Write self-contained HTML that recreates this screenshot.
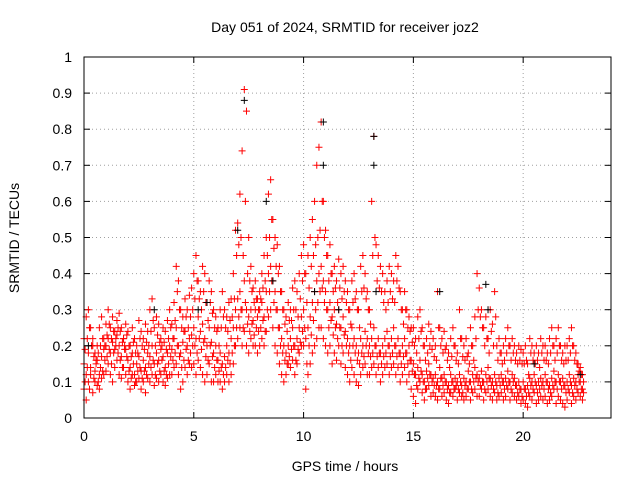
<!DOCTYPE html>
<html><head><meta charset="utf-8"><style>
body{margin:0;background:#fff}
svg{display:block;font-family:"Liberation Sans",sans-serif;font-size:14px}
</style></head><body>
<svg id="chart" width="640" height="480">
<rect x="0" y="0" width="640" height="480" fill="#fff"/>
<g id="grid"></g>
<g id="ticks"></g>
<g id="marks"></g>
<rect x="84" y="57" width="527" height="361" fill="none" stroke="#000"/>
<text x="345" y="32" text-anchor="middle">Day 051 of 2024, SRMTID for receiver joz2</text>
<text x="345" y="471" text-anchor="middle">GPS time / hours</text>
<text transform="translate(19,238) rotate(-90)" text-anchor="middle">SRMTID / TECUs</text>
</svg>
<script>
const xTicks=[0,5,10,15,20];
const yTicks=[0,0.1,0.2,0.3,0.4,0.5,0.6,0.7,0.8,0.9,1];
const yTickLabels=["0","0.1","0.2","0.3","0.4","0.5","0.6","0.7","0.8","0.9","1"];
const tStart=0, tStep=0.1, tStartB=0.05;
const vMid=[.15,.12,.18,.14,.2,.13,.16,.12,.17,.19,
.2,.22,.18,.21,.19,.23,.2,.17,.22,.19,
.16,.14,.18,.12,.15,.17,.13,.16,.14,.18,
.17,.2,.15,.18,.16,.19,.17,.14,.18,.2,
.19,.22,.25,.2,.18,.21,.24,.2,.22,.23,
.25,.22,.28,.24,.26,.22,.2,.25,.21,.18,
.2,.16,.18,.15,.17,.2,.18,.22,.25,.3,
.33,.35,.3,.38,.3,.28,.3,.27,.3,.28,
.3,.32,.28,.35,.4,.42,.38,.35,.3,.25,
.22,.2,.18,.2,.22,.25,.2,.22,.25,.28,
.3,.22,.25,.28,.32,.35,.38,.4,.42,.38,
.35,.3,.32,.28,.3,.26,.3,.25,.28,.24,
.22,.2,.25,.22,.2,.18,.22,.2,.24,.22,
.2,.22,.25,.2,.22,.18,.2,.22,.24,.2,
.22,.25,.2,.22,.18,.2,.22,.18,.2,.16,
.15,.12,.14,.16,.12,.1,.13,.15,.12,.11,
.12,.1,.14,.11,.12,.1,.09,.12,.1,.11,
.1,.12,.09,.11,.1,.13,.1,.12,.14,.12,
.11,.13,.1,.12,.14,.11,.1,.12,.09,.11,
.12,.1,.11,.13,.1,.12,.11,.09,.1,.08,
.1,.08,.09,.11,.1,.12,.09,.1,.11,.1,
.12,.1,.09,.11,.13,.1,.12,.1,.11,.09,
.1,.12,.09,.11,.1,.12,.1,.08];
const vHigh=[.22,.28,.3,.25,.22,.18,.2,.25,.28,.22,
.26,.3,.25,.28,.24,.27,.29,.25,.22,.26,
.24,.2,.25,.22,.2,.27,.24,.22,.26,.24,
.3,.33,.25,.28,.26,.22,.25,.24,.27,.3,
.26,.32,.42,.38,.3,.28,.33,.3,.34,.36,
.4,.45,.38,.35,.42,.4,.32,.38,.35,.3,
.28,.25,.3,.35,.3,.28,.32,.33,.4,.52,
.54,.62,.74,.91,.85,.5,.42,.36,.38,.33,
.35,.4,.45,.5,.62,.66,.55,.5,.48,.42,
.35,.3,.28,.32,.3,.36,.38,.35,.4,.45,
.48,.4,.45,.5,.55,.6,.7,.75,.82,.6,
.52,.45,.48,.4,.42,.38,.44,.4,.42,.38,
.35,.3,.38,.4,.35,.3,.42,.45,.4,.35,
.3,.6,.78,.48,.45,.42,.4,.35,.38,.42,
.4,.38,.45,.42,.35,.3,.35,.3,.28,.25,
.25,.22,.28,.3,.25,.2,.22,.26,.24,.22,
.2,.35,.25,.22,.24,.2,.18,.22,.25,.2,
.18,.3,.22,.2,.22,.18,.25,.2,.28,.4,
.36,.3,.25,.28,.22,.3,.26,.35,.2,.22,
.18,.2,.22,.25,.2,.22,.2,.18,.2,.19,
.18,.2,.15,.22,.2,.18,.2,.18,.22,.2,
.2,.18,.22,.25,.2,.22,.25,.2,.18,.2,
.2,.22,.25,.2,.18,.15,.14,.12];
const vLow=[.08,.05,.1,.12,.07,.1,.09,.08,.11,.12,
.13,.15,.12,.1,.14,.16,.12,.11,.14,.12,
.1,.08,.12,.09,.1,.11,.08,.1,.07,.11,
.1,.12,.09,.11,.1,.12,.1,.09,.11,.12,
.12,.14,.15,.12,.08,.1,.14,.12,.15,.14,
.15,.12,.16,.14,.12,.1,.12,.15,.1,.1,
.12,.1,.1,.08,.1,.12,.1,.12,.15,.2,
.22,.25,.2,.24,.2,.18,.22,.2,.2,.18,
.2,.22,.2,.24,.28,.3,.25,.2,.18,.15,
.12,.1,.12,.15,.14,.16,.12,.15,.18,.2,
.2,.08,.12,.15,.18,.2,.22,.25,.25,.22,
.2,.18,.2,.15,.18,.16,.2,.15,.18,.14,
.12,.1,.14,.12,.1,.09,.12,.14,.15,.12,
.12,.14,.15,.12,.14,.1,.12,.14,.15,.12,
.14,.15,.12,.14,.1,.12,.14,.1,.12,.08,
.06,.04,.08,.1,.07,.05,.08,.09,.06,.07,
.06,.05,.08,.06,.07,.05,.04,.07,.06,.08,
.05,.07,.06,.05,.06,.08,.05,.07,.08,.06,
.06,.08,.05,.07,.08,.06,.05,.07,.05,.06,
.07,.05,.06,.08,.05,.07,.06,.05,.06,.04,
.05,.04,.03,.06,.05,.07,.04,.05,.06,.05,
.06,.04,.05,.06,.08,.04,.06,.05,.04,.03,
.05,.07,.04,.06,.05,.07,.06,.05];
const vA=[.1,.14,.08,.2,.11,.15,.1,.14,.13,.16,
.17,.19,.15,.18,.2,.18,.16,.14,.19,.17,
.13,.11,.15,.1,.13,.14,.11,.13,.12,.15,
.14,.16,.12,.15,.13,.16,.13,.12,.15,.17,
.16,.18,.2,.17,.14,.16,.19,.16,.18,.2,
.2,.18,.22,.19,.21,.17,.16,.2,.17,.14,
.16,.13,.14,.12,.14,.16,.15,.18,.2,.25,
.28,.3,.25,.32,.26,.24,.26,.23,.25,.24,
.25,.27,.24,.3,.35,.38,.32,.3,.25,.2,
.18,.16,.15,.17,.19,.2,.16,.19,.21,.24,
.25,.15,.2,.23,.27,.3,.32,.35,.36,.32,
.3,.25,.27,.23,.25,.22,.25,.2,.23,.2,
.18,.16,.2,.18,.16,.15,.18,.17,.2,.18,
.17,.18,.2,.17,.18,.15,.17,.18,.2,.17,
.18,.2,.17,.18,.15,.17,.18,.15,.16,.13,
.12,.09,.11,.13,.1,.08,.11,.12,.1,.09,
.09,.08,.11,.09,.1,.08,.07,.1,.08,.09,
.08,.1,.07,.09,.08,.1,.08,.1,.11,.1,
.09,.1,.08,.1,.11,.09,.08,.1,.07,.09,
.1,.08,.09,.1,.08,.1,.09,.07,.08,.06,
.08,.06,.07,.09,.08,.1,.07,.08,.09,.08,
.1,.08,.07,.09,.1,.08,.1,.08,.09,.07,
.08,.1,.07,.09,.08,.1,.08,.07];
const vB=[.19,.22,.25,.2,.17,.16,.18,.2,.22,.2,
.23,.26,.22,.24,.22,.25,.24,.21,.2,.23,
.2,.17,.21,.18,.18,.22,.2,.19,.21,.2,
.24,.27,.2,.23,.21,.2,.21,.19,.22,.25,
.22,.27,.35,.3,.25,.24,.28,.25,.28,.3,
.33,.38,.33,.3,.35,.32,.27,.32,.29,.25,
.24,.2,.25,.28,.25,.24,.27,.28,.33,.45,
.48,.5,.45,.6,.4,.38,.35,.32,.33,.3,
.33,.36,.38,.45,.5,.55,.47,.42,.4,.35,
.3,.26,.24,.27,.27,.3,.3,.28,.33,.38,
.4,.32,.36,.42,.45,.48,.5,.52,.6,.5,
.45,.38,.4,.35,.36,.32,.36,.33,.35,.32,
.3,.26,.32,.33,.3,.25,.35,.36,.33,.3,
.26,.45,.5,.38,.36,.35,.32,.3,.32,.35,
.33,.32,.38,.36,.3,.26,.3,.25,.24,.21,
.2,.18,.22,.24,.2,.16,.18,.2,.19,.17,
.16,.25,.2,.18,.19,.16,.14,.17,.2,.16,
.15,.22,.17,.16,.17,.15,.2,.16,.22,.3,
.28,.25,.2,.22,.18,.24,.2,.28,.16,.18,
.15,.16,.18,.2,.16,.18,.16,.15,.16,.15,
.15,.16,.12,.18,.16,.15,.16,.14,.18,.16,
.16,.15,.18,.2,.16,.18,.2,.16,.15,.16,
.16,.18,.2,.16,.15,.13,.12,.1];
const blackT=[0.2,3.2,5.2,5.6,7.0,7.3,8.3,8.6,10.5,10.9,10.9,11.6,13.2,13.2,13.3,16.2,18.3,18.4,20.5,22.6];
const blackV=[.2,.3,.3,.32,.52,.88,.6,.38,.35,.82,.7,.3,.78,.7,.35,.35,.37,.3,.15,.12];

const NS='http://www.w3.org/2000/svg';
const X0=84,X1=611,Y0=418,Y1=57,XMAX=24;
const xs=t=>X0+(t/XMAX)*(X1-X0);
const ys=v=>Y0-v*(Y0-Y1);
const grid=document.getElementById('grid'),ticks=document.getElementById('ticks'),marks=document.getElementById('marks');
function mk(tag,attrs,parent){const e=document.createElementNS(NS,tag);for(const k in attrs)e.setAttribute(k,attrs[k]);parent.appendChild(e);return e;}
xTicks.forEach(t=>{
  const x=xs(t);
  if(t>0){const g=mk('line',{x1:x,x2:x,y1:Y0,y2:Y1,stroke:'#a0a0a0','stroke-dasharray':'1,3'},grid);
  
  }
  mk('line',{x1:x,x2:x,y1:Y0,y2:Y0-6,stroke:'#000'},ticks);
  mk('line',{x1:x,x2:x,y1:Y1,y2:Y1+6,stroke:'#000'},ticks);
  const l=mk('text',{x:x,y:Y0+23,'text-anchor':'middle'},ticks);l.textContent=t;
  
  
});
yTicks.forEach((v,i)=>{
  const y=ys(v);
  if(v>0&&v<1){const g=mk('line',{x1:X0,x2:X1,y1:y,y2:y,stroke:'#a0a0a0','stroke-dasharray':'1,3'},grid);
  
  }
  mk('line',{x1:X0,x2:X0+6,y1:y,y2:y,stroke:'#000'},ticks);
  mk('line',{x1:X1,x2:X1-6,y1:y,y2:y,stroke:'#000'},ticks);
  const l=mk('text',{x:X0-12,y:y+5,'text-anchor':'end'},ticks);l.textContent=yTickLabels[i];
  
  
});
function plus(t,v,color,name){
  const x=xs(t),y=ys(v);
  const p=mk('path',{d:`M${x-3.5},${y}h7M${x},${y-3.5}v7`,stroke:color,'stroke-width':1,fill:'none'},marks);
  
  
}
[vMid,vHigh,vLow].forEach(arr=>arr.forEach((v,i)=>plus(tStart+i*tStep,v,'#ff0000','red-point')));
[vA,vB].forEach(arr=>arr.forEach((v,i)=>plus(tStartB+i*tStep,v,'#ff0000','red-point')));
blackT.forEach((t,i)=>plus(t,blackV[i],'#000000','black-point'));
</script>
</body></html>
